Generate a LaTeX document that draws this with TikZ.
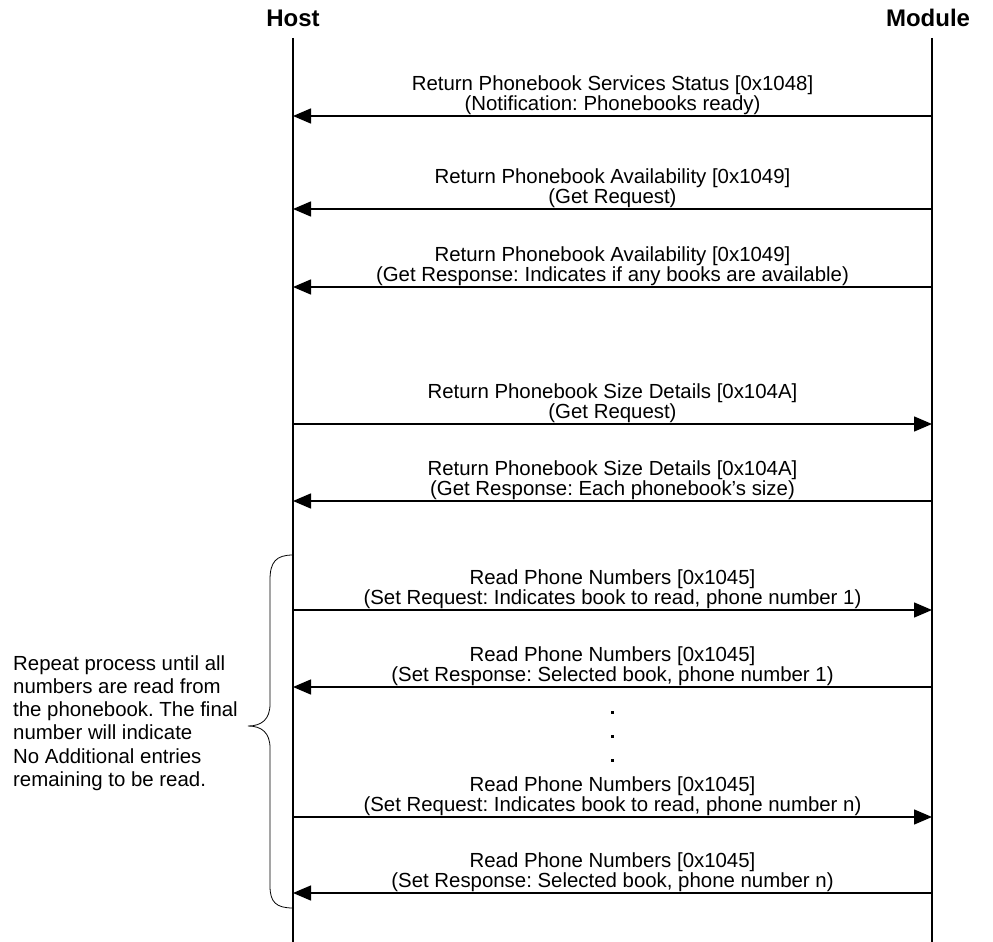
\documentclass[tikz,border=0pt]{standalone}
\usepackage{fontspec}
\setmainfont{Liberation Sans}
\usetikzlibrary{arrows.meta}
\frenchspacing

\begin{document}
\begin{tikzpicture}[
  x=1pt, y=-1pt,
  font=\fontsize{20.4}{23.3}\selectfont,
  actor/.style={font=\fontsize{24}{26}\selectfont\bfseries, inner sep=0pt},
  life/.style={line width=1.4pt},
  msg/.style={line width=1.4pt, -{Triangle[length=18pt, width=15pt]}},
  msglab/.style={align=center, anchor=south, inner sep=1.5pt,
                 font=\fontsize{20.4}{20}\selectfont},
  note/.style={align=left, anchor=west, inner sep=0pt}
]
\useasboundingbox (0,0) rectangle (993,942);
% ----- actors and lifelines -----
\node[actor] (host)   at (293,18) {Host};
\node[actor] (module) at (928,18) {Module};
\coordinate (htop) at (293,38);
\coordinate (hbot) at (293,942);
\coordinate (mtop) at (932,38);
\coordinate (mbot) at (932,942);
\draw[life] (htop) -- (hbot);
\draw[life] (mtop) -- (mbot);
% ----- messages: index / y / from / to / two text lines -----
\foreach \i/\y/\src/\dst/\ta/\tb in {
  1/116/m/h/{Return Phonebook Services Status [0x1048]}/{(Notification: Phonebooks ready)},
  2/209/m/h/{Return Phonebook Availability [0x1049]}/{(Get Request)},
  3/287/m/h/{Return Phonebook Availability [0x1049]}/{(Get Response: Indicates if any books are available)},
  4/424/h/m/{Return Phonebook Size Details [0x104A]}/{(Get Request)},
  5/501/m/h/{Return Phonebook Size Details [0x104A]}/{(Get Response: Each phonebook's size)},
  6/610/h/m/{Read Phone Numbers [0x1045]}/{(Set Request: Indicates book to read, phone number 1)},
  7/687/m/h/{Read Phone Numbers [0x1045]}/{(Set Response: Selected book, phone number 1)},
  8/817/h/m/{Read Phone Numbers [0x1045]}/{(Set Request: Indicates book to read, phone number n)},
  9/893/m/h/{Read Phone Numbers [0x1045]}/{(Set Response: Selected book, phone number n)}}{
  \coordinate (h\i) at (293,\y);
  \coordinate (m\i) at (932,\y);
  \node[msglab] (lab\i) at (612.5,\y) {\ta\\\tb};
  \draw[msg] (\src\i) -- (\dst\i);
}
% ----- continuation dots -----
\foreach \y in {711,735,759}{\fill (611,\y) rectangle ++(3,3);}
% ----- repeat brace and note -----
\coordinate (btop) at (293,555);
\coordinate (bbot) at (293,908);
\draw[line width=0.8pt] (btop) .. controls (276,555) and (270,562) .. (270,580)
  -- (270,704) .. controls (270,719) and (262,726) .. (248,726)
  .. controls (262,726) and (270,733) .. (270,748)
  -- (270,886) .. controls (270,902) and (276,908) .. (bbot);
\node[note] (rep) at (13,723)
  {Repeat process until all\\numbers are read from\\the phonebook. The final\\number will indicate\\No Additional entries\\remaining to be read.};
\end{tikzpicture}
\end{document}
